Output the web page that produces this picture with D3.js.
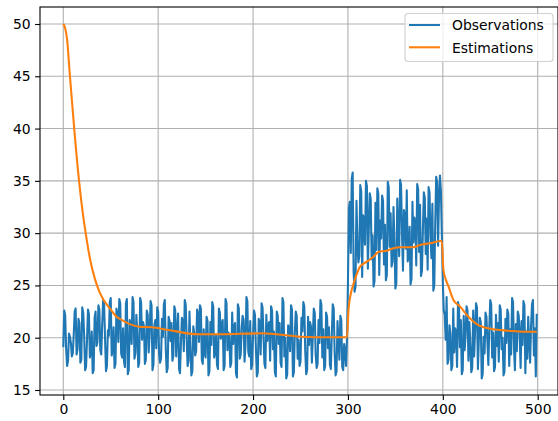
<!DOCTYPE html>
<html>
<head>
<meta charset="utf-8">
<script src="https://cdn.jsdelivr.net/npm/d3@7"></script>
<style>
  body { margin: 0; background: #fff; }
  svg { display: block; font-family: 'DejaVu Sans', sans-serif; }
</style>
</head>
<body>
<div id="canvas"></div>
<script>
// observations, one value per step (0..499)
var observations = [
  19.1, 22.6, 22.1, 18.9, 17.3, 17.8, 20.4, 20.1, 19.5, 18.2, 18.5, 20.3, 22.5, 22.8, 18.4, 18.9, 21.8, 21.4, 17.6, 17.9,
  22.9, 22.4, 20.2, 16.9, 17.2, 19.8, 22.7, 22.3, 18.1, 18.6, 20.6, 16.6, 16.9, 21.9, 22.5, 19.2, 19.6, 23.1, 22.7, 18.8,
  18.4, 21.3, 23.6, 23.2, 19.9, 16.8, 17.3, 20.7, 20.2, 23.4, 23.8, 18.3, 18.9, 21.0, 17.1, 17.5, 22.8, 22.3, 19.6, 23.7,
  23.3, 18.5, 18.1, 20.9, 17.7, 17.2, 23.3, 23.7, 16.5, 16.9, 21.7, 21.2, 19.4, 23.9, 23.4, 18.0, 18.5, 22.2, 20.5, 17.2,
  17.6, 23.8, 23.4, 19.8, 21.5, 21.1, 17.5, 17.9, 22.6, 22.2, 18.6, 20.3, 23.5, 23.1, 16.9, 17.4, 21.2, 21.7, 19.0, 22.9,
  22.5, 18.4, 17.6, 18.0, 21.8, 20.1, 23.2, 23.6, 18.9, 16.7, 17.1, 22.0, 21.6, 19.7, 21.4, 17.8, 18.3, 23.0, 22.6, 18.2,
  20.6, 22.3, 17.0, 16.6, 19.5, 21.9, 21.5, 18.7, 23.6, 23.2, 20.0, 17.3, 17.8, 22.5, 19.1, 16.4, 16.8, 21.1, 20.4, 18.3,
  18.7, 22.7, 22.3, 19.6, 23.1, 22.8, 17.9, 17.5, 20.8, 18.5, 18.1, 22.0, 21.6, 16.4, 16.8, 21.5, 19.3, 23.4, 23.0, 18.1,
  18.6, 20.2, 17.4, 17.0, 22.8, 22.4, 19.9, 21.3, 21.7, 16.9, 17.3, 23.7, 23.3, 18.8, 20.5, 20.1, 17.2, 17.6, 22.4, 19.4,
  21.0, 21.4, 16.6, 16.2, 23.2, 22.8, 18.0, 18.4, 20.9, 22.1, 21.7, 17.7, 19.2, 23.9, 23.5, 18.6, 18.2, 21.6, 17.0, 17.4,
  20.3, 22.6, 22.2, 19.0, 16.3, 16.7, 21.8, 21.4, 18.4, 23.3, 22.9, 20.1, 17.5, 17.1, 22.2, 19.7, 21.1, 21.5, 17.8, 23.0,
  22.6, 18.9, 20.6, 16.7, 16.3, 22.5, 22.1, 19.4, 21.4, 17.6, 17.2, 23.8, 23.4, 18.2, 20.0, 16.1, 16.5, 21.2, 20.8, 18.7,
  23.1, 22.7, 16.3, 16.7, 20.4, 22.5, 22.1, 18.0, 19.8, 17.3, 17.7, 21.9, 20.6, 23.4, 23.0, 18.7, 16.5, 16.9, 22.0, 19.3,
  21.5, 21.1, 17.6, 20.2, 22.8, 22.4, 18.4, 17.1, 17.5, 21.7, 19.5, 23.6, 23.2, 18.1, 20.8, 16.9, 17.3, 22.4, 22.0, 19.0,
  21.0, 17.4, 17.0, 20.3, 23.2, 22.8, 18.6, 16.4, 16.8, 21.6, 19.8, 17.9, 22.1, 21.7, 17.2, 16.9, 19.4, 18.7, 17.3, 19.9,
  25.2, 32.4, 33.0, 28.1, 35.2, 35.8, 26.3, 24.4, 24.9, 33.1, 29.0, 27.2, 27.8, 34.6, 34.0, 25.8, 31.7, 31.2, 28.9, 35.0,
  34.5, 26.6, 30.4, 33.8, 33.3, 27.5, 29.8, 24.9, 25.4, 32.9, 28.4, 34.3, 33.8, 26.0, 31.2, 29.5, 33.6, 33.1, 27.0, 30.8,
  25.5, 26.0, 34.9, 34.4, 28.7, 31.9, 26.8, 27.3, 32.5, 29.3, 24.7, 25.2, 33.3, 30.1, 27.8, 35.1, 34.6, 29.9, 26.4, 32.2,
  31.7, 28.5, 34.1, 27.3, 27.8, 30.6, 25.1, 25.6, 33.0, 29.1, 31.5, 31.0, 26.9, 34.7, 34.2, 28.2, 32.7, 25.9, 26.4, 30.3,
  33.9, 33.4, 28.0, 31.4, 26.5, 34.4, 33.9, 29.6, 27.6, 32.8, 24.5, 25.0, 30.9, 35.4, 34.9, 28.8, 33.5, 35.5, 34.0, 29.7,
  25.3, 22.6, 22.2, 19.8, 23.9, 17.5, 17.9, 21.2, 20.4, 16.9, 17.3, 22.8, 18.6, 20.9, 20.5, 17.2, 23.4, 23.0, 19.1, 21.7,
  16.5, 16.9, 22.1, 18.8, 20.3, 23.0, 22.6, 17.8, 21.5, 19.4, 16.7, 17.1, 22.6, 18.2, 20.7, 23.3, 22.9, 17.0, 19.9, 21.9,
  21.5, 16.1, 16.5, 20.1, 18.5, 22.4, 22.0, 19.6, 17.4, 21.0, 23.6, 23.2, 18.1, 20.5, 16.8, 17.2, 22.2, 19.2, 21.4, 17.7,
  23.1, 22.7, 18.9, 20.0, 16.4, 16.8, 21.8, 19.5, 22.7, 22.3, 17.3, 20.8, 18.4, 23.8, 23.4, 19.0, 16.9, 21.3, 18.7, 22.5,
  22.1, 20.2, 17.1, 21.6, 19.3, 23.5, 23.1, 16.6, 20.6, 18.0, 22.0, 19.7, 17.6, 21.1, 23.2, 23.6, 18.3, 20.9, 16.3, 22.3
]

// estimation curve, sampled where it could be read
var estSteps = [0, 2, 4, 7, 11.5, 16.6, 20, 23.6, 28, 33.4, 38, 42.5, 50, 55, 61.5, 70, 80, 93, 111, 142, 165, 209, 250, 280, 299,
  300.6, 303, 305.7, 309, 312.8, 319.9, 326.9, 332.1, 341, 348, 355, 369, 376, 386.6, 398.9,
  400.6, 403, 406, 411.2, 418.3, 427, 437.5, 451.7, 469, 486.8, 499]
var estValues = [50, 49.6, 48.5, 45, 40, 35, 32.3, 30, 27.6, 25.6, 24.4, 23.6, 22.7, 22.1, 21.7, 21.3, 21.05, 21.0, 20.74, 20.33, 20.33, 20.42, 20.1, 20.04, 20.04,
  22.65, 24.2, 25.1, 26.0, 26.8, 27.27, 27.75, 28.2, 28.32, 28.55, 28.65, 28.65, 28.87, 29.03, 29.28,
  26.5, 25.6, 24.9, 23.6, 22.97, 22.0, 21.2, 20.83, 20.67, 20.57, 20.57]

var xTicks = [0, 100, 200, 300, 400, 500]
var yTicks = [15, 20, 25, 30, 35, 40, 45, 50]
var seriesNames = ['Observations', 'Estimations']
var colors = ['#1f77b4', '#ff7f0e']

var W = 558, H = 421
var box = {left: 40, top: 7, right: 558, bottom: 395}

var svg = d3.select('#canvas')
  .append('svg')
  .attr('width', W)
  .attr('height', H)

// x(0) at 63.3, x(500) at 537.7
var x = d3.scaleLinear()
  .domain([0, 500])
  .range([63.3, 537.7])

var y = d3.scaleLinear()
  .domain([15, 50])
  .range([390, 24])

// grid
svg.append('g')
  .selectAll('line')
  .data(xTicks)
  .enter()
  .append('line')
  .attr('x1', d => x(d)).attr('x2', d => x(d))
  .attr('y1', box.top).attr('y2', box.bottom)
  .attr('stroke', '#b0b0b0')
  .attr('stroke-width', 1.1)

svg.append('g')
  .selectAll('line')
  .data(yTicks)
  .enter()
  .append('line')
  .attr('x1', box.left).attr('x2', box.right)
  .attr('y1', d => y(d)).attr('y2', d => y(d))
  .attr('stroke', '#b0b0b0')
  .attr('stroke-width', 1.1)

svg.append('clipPath')
  .attr('id', 'plotclip')
  .append('rect')
  .attr('x', box.left).attr('y', box.top)
  .attr('width', box.right - box.left).attr('height', box.bottom - box.top)

var plot = svg.append('g').attr('clip-path', 'url(#plotclip)')

var obsLine = d3.line()
  .x((d, i) => x(i))
  .y(d => y(d))

plot.append('path')
  .datum(observations)
  .attr('d', obsLine)
  .attr('fill', 'none')
  .attr('stroke', colors[0])
  .attr('stroke-width', 2.08)
  .attr('stroke-linejoin', 'round')

var estLine = d3.line()
  .x(d => x(d[0]))
  .y(d => y(d[1]))
  .curve(d3.curveMonotoneX)

plot.append('path')
  .datum(estSteps.map((s, i) => [s, estValues[i]]))
  .attr('d', estLine)
  .attr('fill', 'none')
  .attr('stroke', colors[1])
  .attr('stroke-width', 2.08)
  .attr('stroke-linejoin', 'round')

// axes
var xAxis = svg.append('g')
  .attr('transform', 'translate(0,' + box.bottom + ')')
  .call(d3.axisBottom(x).tickValues(xTicks).tickSize(4.9).tickPadding(4))
var yAxis = svg.append('g')
  .attr('transform', 'translate(' + box.left + ',0)')
  .call(d3.axisLeft(y).tickValues(yTicks).tickSize(4.9).tickPadding(4.5))

;[xAxis, yAxis].forEach(a => {
  a.select('.domain').remove()
  a.selectAll('line').attr('stroke', '#000').attr('stroke-width', 1.1)
  a.selectAll('text')
    .attr('fill', '#000')
    .attr('font-size', '13.9px')
    .attr('font-family', 'DejaVu Sans, sans-serif')
})

// frame
svg.append('rect')
  .attr('x', box.left).attr('y', box.top)
  .attr('width', box.right - box.left).attr('height', box.bottom - box.top)
  .attr('fill', 'none')
  .attr('stroke', '#000')
  .attr('stroke-width', 1.1)

// legend
var legend = svg.append('g')
legend.append('rect')
  .attr('x', 405).attr('y', 13.5)
  .attr('width', 148).attr('height', 48)
  .attr('rx', 3)
  .attr('fill', '#fff').attr('fill-opacity', 0.8)
  .attr('stroke', '#d0d0d0')
  .attr('stroke-width', 1.1)

seriesNames.forEach((name, i) => {
  var yy = 25 + i * 22.3
  legend.append('line')
    .attr('x1', 409).attr('x2', 440)
    .attr('y1', yy).attr('y2', yy)
    .attr('stroke', colors[i])
    .attr('stroke-width', 2.08)
  legend.append('text')
    .text(name)
    .attr('x', 452)
    .attr('y', yy + 5.3)
    .attr('font-size', '13.9px')
    .attr('fill', '#000')
})
</script>
</body>
</html>
